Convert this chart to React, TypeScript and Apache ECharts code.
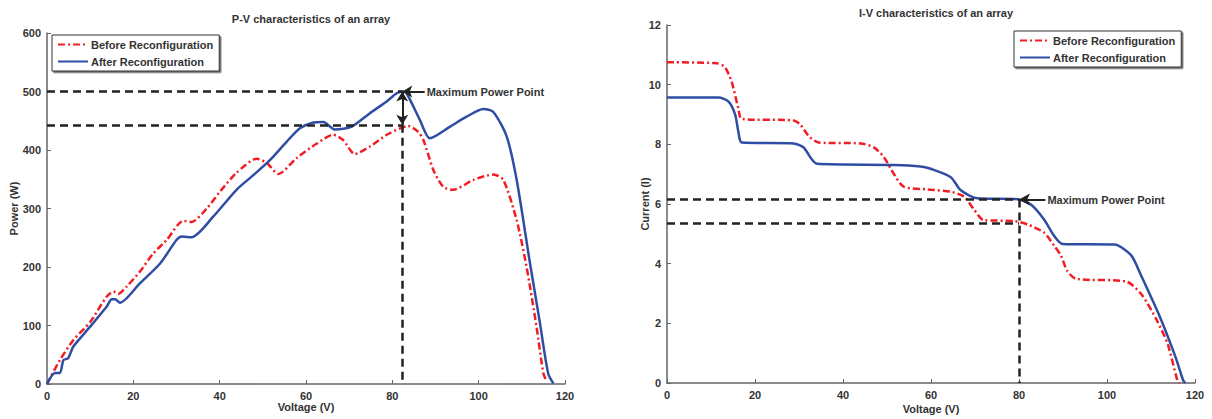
import React, { useEffect, useRef } from "react";
import * as echarts from "echarts";

// P-V characteristics
const pvBeforeV = [0, 3, 6.1, 10, 13.8, 15.4, 16.5, 18.5, 21.5, 24.6, 27.7, 31.6, 33.5, 37, 40.1, 43.9, 48.6, 50.9, 53.6, 57.8, 62.5, 66.3, 68.6, 71.3, 74.8, 78.7, 81.8, 83.7, 86, 87.2, 89.5, 91.8, 94.1, 98.8, 103.4, 105.7, 108.8, 111.1, 113.4, 115, 115.8];
const pvBeforeP = [0, 41, 75, 106, 149, 158, 154, 167, 192, 223, 246, 279, 277, 300, 329, 361, 385, 378, 359, 386, 411, 426, 417, 393, 406, 426, 437, 441, 431, 417, 366, 337, 332, 349, 358, 349, 280, 200, 98, 18, 4];
const pvAfterV = [0, 1.85, 3, 3.8, 4.9, 6.1, 10, 13.8, 15, 15.8, 16.9, 21.5, 26.2, 30, 31.2, 33.5, 38.5, 43.9, 47.8, 51.7, 55.5, 58.6, 61.7, 64, 66.7, 70.6, 74.8, 78.7, 81, 82.3, 83.3, 86.4, 88.7, 93.4, 97.2, 101.1, 103.4, 106.5, 108.8, 111.9, 114.2, 116.1, 117.3];
const pvAfterP = [0, 19, 19, 41, 44, 64, 98, 132, 145, 145, 139, 172, 206, 246, 252, 251, 286, 332, 357, 383, 414, 437, 447, 448, 435, 440, 463, 483, 497, 500, 497, 451, 420, 440, 457, 470, 465, 423, 349, 206, 104, 18, 1];

// I-V characteristics
const ivBeforeV = [0, 11.3, 13.2, 14.7, 16.2, 17, 28.8, 30.3, 32.2, 34.5, 44, 47, 49.3, 51.5, 53.8, 59.2, 64.5, 67.5, 69.8, 72, 78.9, 81.9, 85.7, 88, 89.5, 91, 93, 104.4, 107.9, 111.4, 113.8, 116, 116.5];
const ivBeforeI = [10.75, 10.72, 10.58, 10.09, 9.21, 8.85, 8.8, 8.66, 8.28, 8.06, 8.03, 7.9, 7.57, 7.02, 6.58, 6.49, 6.41, 6.25, 5.81, 5.46, 5.43, 5.32, 5.04, 4.6, 4.28, 3.75, 3.49, 3.4, 2.96, 2.08, 1.3, 0.09, 0];
const ivAfterV = [0, 11.7, 14, 15.5, 16.2, 17, 28.8, 31, 34.1, 51.5, 57.6, 59.9, 64.5, 66.7, 70.5, 79.7, 82.7, 85.7, 88, 89.9, 101.7, 105.5, 107.7, 112.1, 115.6, 117.3, 117.8];
const ivAfterI = [9.57, 9.57, 9.43, 8.99, 8.44, 8.06, 8.03, 7.9, 7.35, 7.31, 7.26, 7.18, 6.9, 6.47, 6.19, 6.16, 5.98, 5.48, 4.93, 4.66, 4.64, 4.28, 3.62, 2.19, 0.86, 0.09, 0];

// Maximum power points
const pvMppV = 82.3;
const pvMppAfter = 500;
const pvMppBefore = 443;
const pvArrowStartV = 87.5;
const ivMppV = 80;
const ivMppAfter = 6.15;
const ivMppBefore = 5.35;
const ivArrowStartV = 86;

const seriesNames = ["Before Reconfiguration", "After Reconfiguration"];
const titles = ["P-V characteristics of an array", "I-V characteristics of an array"];
const mppLabel = "Maximum Power Point";

const FONT = "Liberation Sans, Arial, sans-serif";
const RED = "#f01e24";
const BLUE = "#2f4ea3";
const TXT = "#333333";

const zip = (a: number[], b: number[]) => a.map((v, i) => [v, b[i]]);

export default function App() {
  const ref = useRef<HTMLDivElement>(null);
  useEffect(() => {
    if (!ref.current) return;
    const chart = echarts.init(ref.current, undefined, { renderer: "svg" });

    const axisCommon = {
      axisLine: { show: true, onZero: false, lineStyle: { color: "#666", width: 1.5 } },
      axisTick: { show: true, inside: true, length: 4, lineStyle: { color: "#666", width: 1 } },
      splitLine: { show: false },
      nameMoveOverlap: false,
      axisLabel: { color: TXT, fontFamily: FONT, fontWeight: "bold", fontSize: 11 },
      nameTextStyle: { color: TXT, fontFamily: FONT, fontWeight: "bold", fontSize: 11 },
    };

    const dash = { type: [8, 5], color: "#222", width: 2.5 };
    const solid = { type: "solid", color: "#222", width: 2 };
    const lbl = {
      show: true,
      position: "start",
      formatter: mppLabel,
      color: TXT,
      fontFamily: FONT,
      fontWeight: "bold",
      fontSize: 11,
      distance: 2,
    };

    const redLine = { color: RED, width: 2.5, type: [7, 3, 2, 3] };
    const blueLine = { color: BLUE, width: 2.5, type: "solid" };

    const legendCommon = {
      orient: "vertical",
      itemWidth: 30,
      itemHeight: 10,
      itemGap: 6,
      padding: [4, 6, 4, 5],
      borderColor: "#333",
      borderWidth: 1,
      backgroundColor: "#fff",
      shadowColor: "rgba(0,0,0,0.6)",
      shadowOffsetX: 1.5,
      shadowOffsetY: 1.5,
      shadowBlur: 1,
      data: seriesNames,
      itemStyle: { opacity: 0, borderWidth: 0 },
      textStyle: { color: TXT, fontFamily: FONT, fontWeight: "bold", fontSize: 11, padding: [0, 0, 0, -2] },
      selectedMode: false,
    };

    chart.setOption({
      animation: false,
      backgroundColor: "#fff",
      title: [
        {
          text: titles[0],
          left: 306,
          top: 8,
          textAlign: "center",
          textStyle: { color: TXT, fontFamily: FONT, fontWeight: "bold", fontSize: 11 },
        },
        {
          text: titles[1],
          left: 931,
          top: 2,
          textAlign: "center",
          textStyle: { color: TXT, fontFamily: FONT, fontWeight: "bold", fontSize: 11 },
        },
      ],
      legend: [
        { ...legendCommon, left: 52, top: 35 },
        { ...legendCommon, left: 1014, top: 31 },
      ],
      grid: [
        { left: 47, right: 647, top: 33, bottom: 35 },
        { left: 667, right: 17, top: 25, bottom: 29 },
      ],
      xAxis: [
        {
          ...axisCommon,
          gridIndex: 0,
          type: "value",
          min: 0,
          max: 120,
          interval: 20,
          name: "Voltage (V)",
          nameLocation: "middle",
          nameGap: 17,
          axisLabel: { ...axisCommon.axisLabel, margin: 6 },
        },
        {
          ...axisCommon,
          gridIndex: 1,
          type: "value",
          min: 0,
          max: 120,
          interval: 20,
          name: "Voltage (V)",
          nameLocation: "middle",
          nameGap: 20,
          axisLabel: { ...axisCommon.axisLabel, margin: 6 },
        },
      ],
      yAxis: [
        {
          ...axisCommon,
          gridIndex: 0,
          type: "value",
          min: 0,
          max: 600,
          interval: 100,
          name: "Power (W)",
          nameLocation: "middle",
          nameGap: 28,
          axisLabel: { ...axisCommon.axisLabel, margin: 6 },
        },
        {
          ...axisCommon,
          gridIndex: 1,
          type: "value",
          min: 0,
          max: 12,
          interval: 2,
          name: "Current (I)",
          nameLocation: "middle",
          nameGap: 17,
          axisLabel: { ...axisCommon.axisLabel, margin: 6 },
        },
      ],
      series: [
        {
          name: seriesNames[0],
          type: "line",
          xAxisIndex: 0,
          yAxisIndex: 0,
          data: zip(pvBeforeV, pvBeforeP),
          symbol: "none",
          smooth: 0.25,
          lineStyle: redLine,
          itemStyle: { color: RED },
          z: 3,
        },
        {
          name: seriesNames[1],
          type: "line",
          xAxisIndex: 0,
          yAxisIndex: 0,
          data: zip(pvAfterV, pvAfterP),
          symbol: "none",
          smooth: 0.25,
          lineStyle: blueLine,
          itemStyle: { color: BLUE },
          z: 3,
        },
        {
          name: seriesNames[0],
          type: "line",
          xAxisIndex: 1,
          yAxisIndex: 1,
          data: zip(ivBeforeV, ivBeforeI),
          symbol: "none",
          smooth: 0.25,
          lineStyle: redLine,
          itemStyle: { color: RED },
          z: 3,
        },
        {
          name: seriesNames[1],
          type: "line",
          xAxisIndex: 1,
          yAxisIndex: 1,
          data: zip(ivAfterV, ivAfterI),
          symbol: "none",
          smooth: 0.25,
          lineStyle: blueLine,
          itemStyle: { color: BLUE },
          z: 3,
        },
        {
          name: "pv-mpp",
          type: "line",
          xAxisIndex: 0,
          yAxisIndex: 0,
          data: [],
          z: 4,
          markLine: {
            silent: true,
            animation: false,
            symbol: ["none", "none"],
            label: { show: false },
            lineStyle: dash,
            data: [
              [{ coord: [0, pvMppAfter] }, { coord: [pvMppV, pvMppAfter] }],
              [{ coord: [0, pvMppBefore] }, { coord: [pvMppV, pvMppBefore] }],
              [{ coord: [pvMppV, pvMppBefore] }, { coord: [pvMppV, 0] }],
              [
                { coord: [pvMppV, pvMppAfter], symbol: "arrow", symbolSize: [9, 10], lineStyle: solid },
                { coord: [pvMppV, pvMppBefore], symbol: "arrow", symbolSize: [9, 10] },
              ],
              [
                { coord: [pvArrowStartV, pvMppAfter], symbol: "none", lineStyle: solid, label: lbl },
                { coord: [pvMppV, pvMppAfter], symbol: "arrow", symbolSize: [9, 10] },
              ],
            ],
          },
        },
        {
          name: "iv-mpp",
          type: "line",
          xAxisIndex: 1,
          yAxisIndex: 1,
          data: [],
          z: 4,
          markLine: {
            silent: true,
            animation: false,
            symbol: ["none", "none"],
            label: { show: false },
            lineStyle: dash,
            data: [
              [{ coord: [0, ivMppAfter] }, { coord: [ivMppV, ivMppAfter] }],
              [{ coord: [0, ivMppBefore] }, { coord: [ivMppV, ivMppBefore] }],
              [{ coord: [ivMppV, ivMppAfter] }, { coord: [ivMppV, 0] }],
              [
                { coord: [ivArrowStartV, ivMppAfter], symbol: "none", lineStyle: solid, label: lbl },
                { coord: [ivMppV, ivMppAfter], symbol: "arrow", symbolSize: [9, 11] },
              ],
            ],
          },
        },
      ],
    });
    return () => chart.dispose();
  }, []);

  return (
    <div
      ref={ref}
      style={{ position: "fixed", left: 0, top: 0, width: 1212, height: 419, background: "#fff" }}
    />
  );
}
